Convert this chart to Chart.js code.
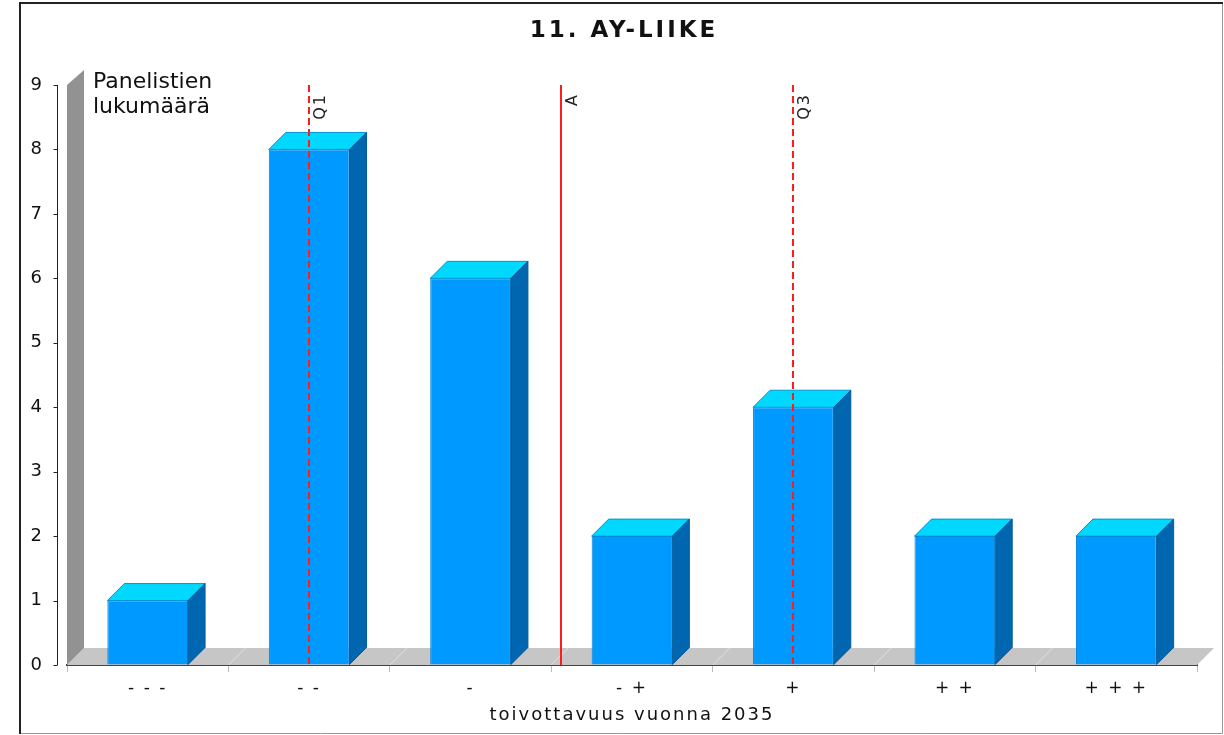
<!DOCTYPE html>
<html>
<head>
<meta charset="utf-8">
<title>11. AY-LIIKE</title>
<script src="https://cdn.jsdelivr.net/npm/chart.js@4/dist/chart.umd.min.js"></script>
<style>
  html, body { margin: 0; padding: 0; background: #fff; }
  canvas { display: block; }
</style>
</head>
<body>
<canvas id="chart" width="1224" height="735" style="width:1224px;height:735px"></canvas>
<script>
// ============ Data ============
const categories = ['- - -', '- -', '-', '- +', '+', '+ +', '+ + +'];
const counts = [1, 8, 6, 2, 4, 2, 2];
const yMax = 9;
// markers on the 1..7 scale (Q1, mean, Q3)
const markerLabels = ['Q1', 'A', 'Q3'];
const markerValues = [2, 3.56, 5];
const markerDashed = [true, false, true];

const chartTitle = '11. AY-LIIKE';
const xTitle = 'toivottavuus vuonna 2035';
const yTitle = ['Panelistien', 'lukumäärä'];

// ============ Look ============
const FONT = 'DejaVu Sans, Verdana, sans-serif';
const DEPTH_X = 17, DEPTH_Y = 17;
const SPACING = '2px';
const TITLE_SPACING = '3px';
const TITLE_SHIFT = 15; // title is centred on the framed box, not the plot

// ============ Plugins ============
const frame = {
    id: 'frame',
    beforeLayout(chart) {
        chart.ctx.letterSpacing = SPACING;
    },
    afterLayout(chart) {
        // title gets its own letter spacing
        const tb = chart.titleBlock;
        if (tb && !tb._spaced) {
            const draw = tb.draw;
            tb.draw = function () {
                const c = this.ctx;
                c.save();
                c.translate(TITLE_SHIFT, 0);
                c.letterSpacing = TITLE_SPACING;
                draw.apply(this, arguments);
                c.restore();
            };
            tb._spaced = true;
        }
    },
    beforeDraw(chart) {
        const ctx = chart.ctx;
        ctx.save();
        ctx.fillStyle = '#fff';
        ctx.fillRect(0, 0, chart.width, chart.height);
        ctx.strokeStyle = '#999';
        ctx.lineWidth = 1;
        ctx.beginPath();
        ctx.moveTo(1222.5, 2); ctx.lineTo(1222.5, 733.5); ctx.lineTo(20, 733.5);
        ctx.stroke();
        ctx.strokeStyle = '#222';
        ctx.lineWidth = 2;
        ctx.beginPath();
        ctx.moveTo(20, 734); ctx.lineTo(20, 3); ctx.lineTo(1223, 3);
        ctx.stroke();
        ctx.restore();
        ctx.letterSpacing = SPACING;
    }
};

// floor + back wall behind the bars
const room = {
    id: 'room',
    beforeDatasetsDraw(chart) {
        const { ctx, chartArea: a, scales: { x } } = chart;
        ctx.save();
        ctx.fillStyle = '#c6c6c6';
        ctx.beginPath();
        ctx.moveTo(a.left, a.bottom);
        ctx.lineTo(a.left + DEPTH_X, a.bottom - DEPTH_Y);
        ctx.lineTo(a.right + DEPTH_X, a.bottom - DEPTH_Y);
        ctx.lineTo(a.right, a.bottom);
        ctx.closePath();
        ctx.fill();
        // faint grid lines on the floor
        ctx.strokeStyle = '#e2e2e2';
        ctx.lineWidth = 1;
        for (let i = 1; i < categories.length; i++) {
            const xb = x.getPixelForValue(i - 0.5);
            ctx.beginPath();
            ctx.moveTo(xb, a.bottom);
            ctx.lineTo(xb + DEPTH_X, a.bottom - DEPTH_Y);
            ctx.stroke();
        }
        ctx.fillStyle = '#929292';
        ctx.beginPath();
        ctx.moveTo(a.left, a.bottom);
        ctx.lineTo(a.left, a.top);
        ctx.lineTo(a.left + DEPTH_X, a.top - DEPTH_Y + 2);
        ctx.lineTo(a.left + DEPTH_X, a.bottom - DEPTH_Y);
        ctx.closePath();
        ctx.fill();
        ctx.restore();
    }
};

// top + side faces for the bars, then the marker lines
const bars3d = {
    id: 'bars3d',
    afterDatasetsDraw(chart) {
        const { ctx, chartArea: a, scales: { x } } = chart;
        const meta = chart.getDatasetMeta(0);
        ctx.save();
        ctx.lineWidth = 1;
        meta.data.forEach(bar => {
            const l = bar.x - bar.width / 2, r = bar.x + bar.width / 2;
            const t = bar.y, b = bar.base;
            ctx.fillStyle = '#00d8ff';
            ctx.strokeStyle = '#0096d0';
            ctx.beginPath();
            ctx.moveTo(l, t);
            ctx.lineTo(l + DEPTH_X, t - DEPTH_Y);
            ctx.lineTo(r + DEPTH_X, t - DEPTH_Y);
            ctx.lineTo(r, t);
            ctx.closePath();
            ctx.fill(); ctx.stroke();
            ctx.fillStyle = '#0066b0';
            ctx.strokeStyle = '#005c9c';
            ctx.beginPath();
            ctx.moveTo(r, t);
            ctx.lineTo(r + DEPTH_X, t - DEPTH_Y);
            ctx.lineTo(r + DEPTH_X, b - DEPTH_Y);
            ctx.lineTo(r, b);
            ctx.closePath();
            ctx.fill(); ctx.stroke();
        });

        // Q1 / A / Q3
        markerValues.forEach((v, i) => {
            const px = Math.round(x.getPixelForValue(v - 1));
            ctx.strokeStyle = '#ff1c1c';
            ctx.lineWidth = 2;
            ctx.setLineDash(markerDashed[i] ? [7, 4] : []);
            ctx.beginPath();
            ctx.moveTo(px, a.top);
            ctx.lineTo(px, a.bottom);
            ctx.stroke();
            ctx.save();
            ctx.translate(px + 4, a.top + 8);
            ctx.rotate(-Math.PI / 2);
            ctx.fillStyle = '#222';
            ctx.font = '16px ' + FONT;
            ctx.letterSpacing = '2px';
            ctx.textAlign = 'right';
            ctx.textBaseline = 'top';
            ctx.fillText(markerLabels[i], 0, 0);
            ctx.restore();
        });
        ctx.restore();
    },
    afterDraw(chart) {
        const { ctx, chartArea: a, scales: { y } } = chart;
        ctx.save();
        // y axis line and ticks, set a little left of the wall
        const ax = a.left - 9.5;
        ctx.strokeStyle = '#222';
        ctx.lineWidth = 1;
        ctx.beginPath();
        ctx.moveTo(ax, a.top);
        ctx.lineTo(ax, a.bottom);
        y.ticks.forEach(t => {
            const py = Math.round(y.getPixelForValue(t.value)) + 0.5;
            ctx.moveTo(ax - 4, py);
            ctx.lineTo(ax, py);
        });
        ctx.stroke();
        // y title, upper left inside the plot
        ctx.letterSpacing = '0px';
        ctx.fillStyle = '#111';
        ctx.font = '22px ' + FONT;
        ctx.textAlign = 'left';
        ctx.textBaseline = 'alphabetic';
        ctx.fillText(yTitle[0], a.left + 26, a.top + 3);
        ctx.fillText(yTitle[1], a.left + 26, a.top + 28);
        ctx.restore();
    }
};

// ============ Chart ============
const el = document.getElementById('chart');
const chart = new Chart(el, {
    type: 'bar',
    data: {
        labels: categories,
        datasets: [{
            data: counts,
            backgroundColor: '#0099ff',
            borderColor: '#0080d8',
            borderWidth: 1,
            barPercentage: 0.5,
            categoryPercentage: 1
        }]
    },
    options: {
        responsive: false,
        animation: false,
        layout: { padding: { left: 21, top: 3, right: 27, bottom: 2 } },
        plugins: {
            legend: { display: false },
            tooltip: { enabled: false },
            title: {
                display: true,
                text: chartTitle,
                color: '#111',
                font: { family: FONT, size: 23, weight: 'bold' },
                padding: { top: 14.2, bottom: 40.2 }
            }
        },
        scales: {
            x: {
                afterFit(s) { s.height = 68; },
                grid: { display: true, drawOnChartArea: false, drawTicks: true, tickLength: 7, color: '#bbb', offset: true },
                border: { display: true, color: '#444', width: 2 },
                ticks: { color: '#111', font: { family: FONT, size: 17 }, padding: 6, maxRotation: 0, autoSkip: false },
                title: {
                    display: true,
                    text: xTitle,
                    color: '#111',
                    font: { family: FONT, size: 18 },
                    padding: { top: 0, bottom: 7.2 }
                }
            },
            y: {
                min: 0,
                max: yMax,
                afterFit(s) { s.width = 46; },
                grid: { display: true, drawOnChartArea: false, drawTicks: true, tickLength: 13, color: 'transparent' },
                border: { display: false },
                ticks: { stepSize: 1, color: '#111', font: { family: FONT, size: 18 }, padding: 10 }
            }
        }
    },
    plugins: [frame, room, bars3d]
});
</script>
</body>
</html>
